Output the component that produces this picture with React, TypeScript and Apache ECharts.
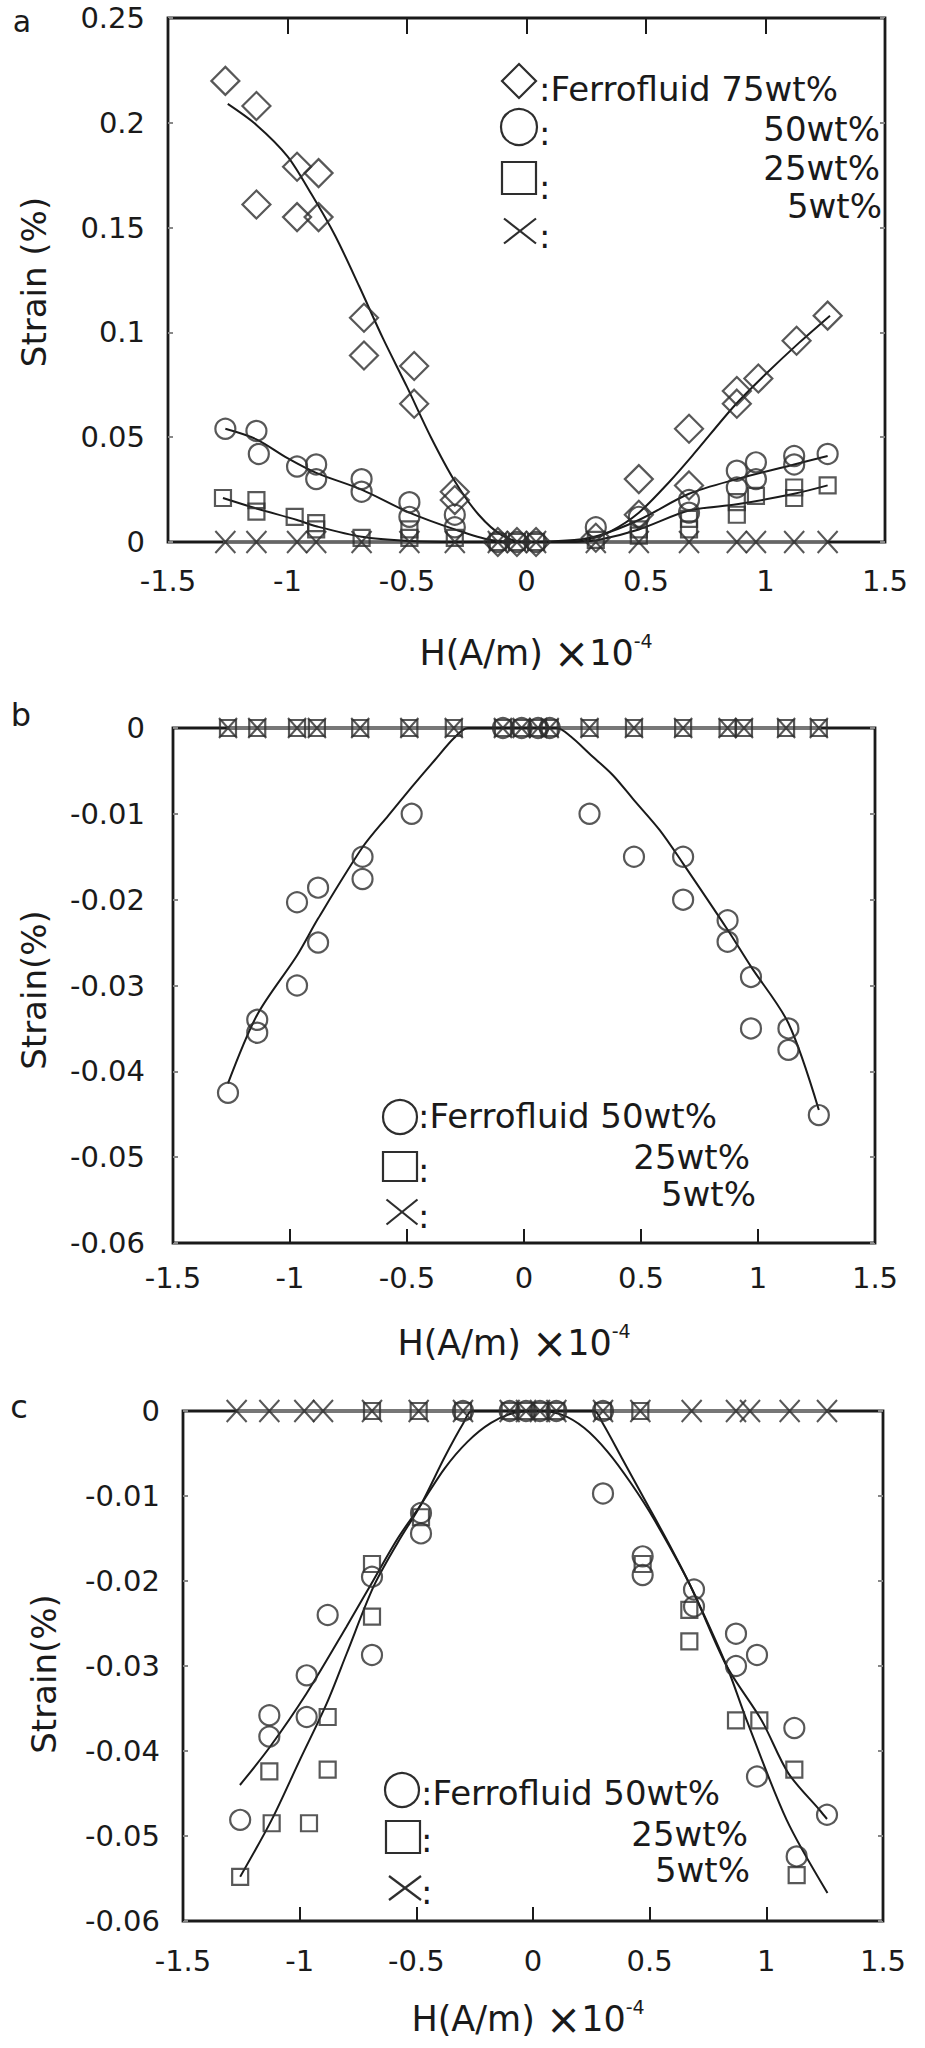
import React, { useEffect, useRef } from "react";
import * as echarts from "echarts";

const FONT = '"DejaVu Sans", "Liberation Sans", Arial, sans-serif';
const INK = "#1a1a1a";
const MARK = "#2e2e2e";

// ---------- axis ticks ----------
const xTickMin = -1.5;
const xTickMax = 1.5;
const xTickStep = 0.5;
const aYMin = 0;
const aYMax = 0.25;
const aYStep = 0.05;
const bcYMin = -0.06;
const bcYMax = 0;
const bcYStep = 0.01;

// ---------- panel a : strain vs H ----------
const a75wt = [
  [-1.26, 0.22], [-1.13, 0.208], [-1.13, 0.161], [-0.96, 0.179], [-0.96, 0.155],
  [-0.87, 0.176], [-0.87, 0.155], [-0.68, 0.107], [-0.68, 0.089], [-0.47, 0.084],
  [-0.47, 0.066], [-0.3, 0.024], [-0.3, 0.02], [-0.12, 0], [-0.04, 0], [0.04, 0],
  [0.29, 0.002], [0.47, 0.03], [0.47, 0.013], [0.68, 0.054], [0.68, 0.027],
  [0.88, 0.072], [0.88, 0.066], [0.97, 0.078], [1.13, 0.096], [1.26, 0.108],
];
const a50wt = [
  [-1.26, 0.054], [-1.13, 0.053], [-1.12, 0.042], [-0.96, 0.036], [-0.88, 0.037],
  [-0.88, 0.03], [-0.69, 0.03], [-0.69, 0.024], [-0.49, 0.019], [-0.49, 0.012],
  [-0.3, 0.013], [-0.3, 0.007], [-0.12, 0], [-0.04, 0], [0.04, 0], [0.29, 0.007],
  [0.47, 0.012], [0.68, 0.02], [0.68, 0.014], [0.88, 0.034], [0.88, 0.026],
  [0.96, 0.038], [0.96, 0.03], [1.12, 0.041], [1.12, 0.037], [1.26, 0.042],
];
const a25wt = [
  [-1.27, 0.021], [-1.13, 0.02], [-1.13, 0.0145], [-0.97, 0.012], [-0.88, 0.009],
  [-0.88, 0.006], [-0.69, 0.002], [-0.49, 0.006], [-0.49, 0.002], [-0.3, 0.002],
  [-0.12, 0], [-0.04, 0], [0.04, 0], [0.29, 0.001], [0.47, 0.006], [0.47, 0.003],
  [0.68, 0.011], [0.68, 0.006], [0.88, 0.019], [0.88, 0.013], [0.96, 0.022],
  [1.12, 0.026], [1.12, 0.021], [1.26, 0.027],
];
const a5wt = [
  [-1.26, 0], [-1.13, 0], [-0.96, 0], [-0.88, 0], [-0.69, 0], [-0.49, 0], [-0.3, 0],
  [-0.12, 0], [-0.04, 0], [0.04, 0], [0.29, 0], [0.47, 0], [0.68, 0], [0.88, 0],
  [0.96, 0], [1.12, 0], [1.26, 0],
];
const a75Fit = [
  [-1.25, 0.209], [-1.13, 0.199], [-1.0, 0.184], [-0.9, 0.166], [-0.8, 0.146],
  [-0.7, 0.122], [-0.6, 0.097], [-0.5, 0.074], [-0.4, 0.05], [-0.3, 0.029],
  [-0.2, 0.013], [-0.1, 0.003], [0, 0], [0.15, 0], [0.25, 0.001], [0.35, 0.005],
  [0.47, 0.014], [0.6, 0.029], [0.7, 0.042], [0.87, 0.065], [1.0, 0.08],
  [1.14, 0.095], [1.27, 0.108],
];
const a50Fit = [
  [-1.26, 0.054], [-1.13, 0.049], [-1.0, 0.04], [-0.88, 0.033], [-0.69, 0.025],
  [-0.49, 0.014], [-0.3, 0.006], [-0.15, 0.001], [0, 0], [0.2, 0.001], [0.3, 0.003],
  [0.47, 0.0105], [0.68, 0.023], [0.88, 0.03], [1.12, 0.037], [1.26, 0.041],
];
const a25Fit = [
  [-1.27, 0.021], [-1.13, 0.016], [-0.96, 0.0105], [-0.88, 0.0075], [-0.69, 0.0025],
  [-0.49, 0.0005], [-0.3, 0], [0.2, 0], [0.3, 0.001], [0.47, 0.006], [0.68, 0.015],
  [0.88, 0.018], [1.12, 0.023], [1.26, 0.027],
];
const a5Fit = [[-1.27, 0], [1.26, 0]];

// ---------- panel b ----------
const b50wt = [
  [-1.265, -0.0425], [-1.14, -0.034], [-1.14, -0.0355], [-0.97, -0.0203], [-0.97, -0.03],
  [-0.88, -0.0186], [-0.88, -0.025], [-0.69, -0.015], [-0.69, -0.0176], [-0.48, -0.01],
  [-0.09, 0], [-0.01, 0], [0.06, 0], [0.11, 0],
  [0.28, -0.01], [0.47, -0.015], [0.68, -0.015], [0.68, -0.02], [0.87, -0.0224],
  [0.87, -0.0249], [0.97, -0.029], [0.97, -0.035], [1.13, -0.035], [1.13, -0.0375],
  [1.26, -0.0451],
];
const b25wt = [
  [-1.265, 0], [-1.14, 0], [-0.97, 0], [-0.885, 0], [-0.7, 0], [-0.49, 0], [-0.3, 0],
  [-0.09, 0], [-0.01, 0], [0.06, 0], [0.11, 0], [0.28, 0], [0.47, 0], [0.68, 0],
  [0.87, 0], [0.94, 0], [1.12, 0], [1.26, 0],
];
const b5wt = [
  [-1.265, 0], [-1.14, 0], [-0.97, 0], [-0.885, 0], [-0.7, 0], [-0.49, 0], [-0.3, 0],
  [-0.09, 0], [-0.01, 0], [0.06, 0], [0.11, 0], [0.28, 0], [0.47, 0], [0.68, 0],
  [0.87, 0], [0.94, 0], [1.12, 0], [1.26, 0],
];
const b50Fit = [
  [-1.265, -0.0414], [-1.14, -0.0334], [-0.97, -0.0265], [-0.88, -0.0222], [-0.69, -0.0139],
  [-0.58, -0.0102], [-0.48, -0.0069], [-0.38, -0.0037], [-0.3, -0.0012], [-0.24, 0],
  [0.14, 0], [0.2, -0.001], [0.28, -0.003], [0.38, -0.0055], [0.47, -0.0084],
  [0.58, -0.0119], [0.68, -0.0158], [0.87, -0.0235], [0.97, -0.0278], [1.13, -0.0344],
  [1.26, -0.0445],
];
const bZeroFit = [[-1.27, 0], [1.27, 0]];

// ---------- panel c ----------
const c50wt = [
  [-1.255, -0.0481], [-1.13, -0.0358], [-1.13, -0.0383], [-0.97, -0.0311], [-0.97, -0.036],
  [-0.88, -0.024], [-0.69, -0.0195], [-0.69, -0.0287], [-0.48, -0.012], [-0.48, -0.0144],
  [-0.3, 0], [-0.1, 0], [-0.03, 0], [0.03, 0], [0.1, 0], [0.3, 0],
  [0.3, -0.0097], [0.47, -0.0171], [0.47, -0.0193], [0.69, -0.021], [0.69, -0.023],
  [0.87, -0.0262], [0.87, -0.03], [0.96, -0.0287], [0.96, -0.043], [1.12, -0.0373],
  [1.13, -0.0524], [1.26, -0.0475],
];
const c25wt = [
  [-1.255, -0.0548], [-1.12, -0.0485], [-0.96, -0.0485], [-1.13, -0.0424], [-0.88, -0.0422],
  [-0.88, -0.036], [-0.69, -0.018], [-0.69, -0.0242], [-0.48, -0.0125],
  [-0.69, 0], [-0.49, 0], [-0.3, 0], [-0.1, 0], [-0.03, 0], [0.03, 0], [0.1, 0], [0.3, 0], [0.46, 0],
  [0.47, -0.018], [0.67, -0.0234], [0.67, -0.0271], [0.87, -0.0364], [0.97, -0.0364],
  [1.12, -0.0422], [1.13, -0.0546],
];
const c5wt = [
  [-1.27, 0], [-1.13, 0], [-0.98, 0], [-0.9, 0], [-0.69, 0], [-0.49, 0], [-0.3, 0],
  [-0.1, 0], [-0.03, 0], [0.03, 0], [0.1, 0], [0.3, 0], [0.46, 0], [0.68, 0],
  [0.87, 0], [0.93, 0], [1.1, 0], [1.26, 0],
];
const cFitRound = [
  [-1.256, -0.044], [-1.127, -0.0395], [-0.97, -0.0332], [-0.8, -0.0254], [-0.684, -0.0199],
  [-0.58, -0.015], [-0.48, -0.011], [-0.38, -0.0068], [-0.28, -0.0036], [-0.18, -0.0014],
  [-0.08, -0.0002], [0.02, 0], [0.12, -0.0004], [0.22, -0.002], [0.32, -0.0048],
  [0.42, -0.0085], [0.52, -0.0128], [0.677, -0.0207], [0.83, -0.03], [0.98, -0.0364],
  [1.094, -0.0426], [1.23, -0.047], [1.26, -0.048],
];
const cFitFlat = [
  [-1.255, -0.0548], [-1.12, -0.0481], [-1.0, -0.0411], [-0.884, -0.0344], [-0.798, -0.0285],
  [-0.684, -0.0207], [-0.58, -0.0155], [-0.48, -0.011], [-0.38, -0.0055], [-0.3, -0.0015],
  [-0.26, 0], [0.26, 0], [0.3, -0.0015], [0.38, -0.0055], [0.48, -0.0105], [0.58, -0.0155],
  [0.677, -0.0207], [0.83, -0.03], [0.916, -0.0364], [1.087, -0.0481], [1.262, -0.0567],
];
const cZeroFit = [[-1.27, 0], [1.27, 0]];

// ---------- legend / titles ----------
const titleMain = "H(A/m) ";
const titleTimes = "×";
const titleBase = "10";
const titleSup = "-4";
const legendA = [":Ferrofluid 75wt%", "50wt%", "25wt%", "5wt%"];
const legendBC = [":Ferrofluid 50wt%", "25wt%", "5wt%"];

const X_PATH = "path://M0 0L20 20M20 0L0 20";
const TICK_FS = 29;
const LEG_FS = 34;

function fitLine(data: number[][], xi: number, yi: number, width = 2, color = INK) {
  return {
    type: "line",
    xAxisIndex: xi,
    yAxisIndex: yi,
    data,
    showSymbol: false,
    symbol: "none",
    smooth: 0.3,
    clip: false,
    silent: true,
    z: 3,
    lineStyle: { color, width },
  };
}

function marks(data: number[][], symbol: string, size: number | number[], xi: number, yi: number) {
  return {
    type: "scatter",
    xAxisIndex: xi,
    yAxisIndex: yi,
    data,
    symbol,
    symbolSize: size,
    clip: false,
    silent: true,
    z: 4,
    itemStyle: { color: "rgba(0,0,0,0)", borderColor: MARK, borderWidth: 2.2 },
  };
}

function xAx(gridIndex: number, extra: any) {
  return {
    type: "value",
    gridIndex,
    min: xTickMin,
    max: xTickMax,
    interval: xTickStep,
    splitLine: { show: false },
    axisLine: { show: false, onZero: false },
    axisTick: { show: true, inside: true, length: 14, lineStyle: { color: INK, width: 2 } },
    axisLabel: { fontSize: TICK_FS, fontFamily: FONT, color: INK, margin: 24 },
    ...extra,
  };
}

function yAx(gridIndex: number, min: number, max: number, step: number, extra: any) {
  return {
    type: "value",
    gridIndex,
    min,
    max,
    interval: step,
    splitLine: { show: false },
    axisLine: { show: false, onZero: false },
    axisTick: { show: true, inside: true, length: 5, lineStyle: { color: "#888", width: 2 } },
    axisLabel: { fontSize: TICK_FS, fontFamily: FONT, color: INK, margin: 23 },
    ...extra,
  };
}

function txt(x: number, y: number, text: string, size: number, align = "left", extra: any = {}, vAlign = "middle") {
  return {
    type: "text",
    x,
    y,
    silent: true,
    z: 10,
    ...extra,
    style: {
      text,
      fontSize: size,
      fontFamily: FONT,
      fill: INK,
      align,
      textAlign: align,
      verticalAlign: vAlign,
      textVerticalAlign: vAlign,
    },
  };
}

const symStroke = { stroke: MARK, lineWidth: 2.2, fill: "none" };

function xMark(cx: number, cy: number, w: number, h: number) {
  return [
    { type: "line", silent: true, shape: { x1: cx - w / 2, y1: cy - h / 2, x2: cx + w / 2, y2: cy + h / 2 }, style: { stroke: MARK, lineWidth: 2.2 } },
    { type: "line", silent: true, shape: { x1: cx + w / 2, y1: cy - h / 2, x2: cx - w / 2, y2: cy + h / 2 }, style: { stroke: MARK, lineWidth: 2.2 } },
  ];
}

function xTitle(cx: number, cy: number) {
  return {
    type: "text",
    x: cx,
    y: cy,
    silent: true,
    style: {
      text: titleMain + "{x|" + titleTimes + "}" + titleBase + "{s|" + titleSup + "}",
      fontSize: 35,
      fontFamily: FONT,
      fill: INK,
      align: "center",
      textAlign: "center",
      verticalAlign: "middle",
      textVerticalAlign: "middle",
      lineHeight: 44,
      rich: {
        x: { fontSize: 42, fontFamily: FONT, fill: INK, lineHeight: 44 },
        s: { fontSize: 19, fontFamily: FONT, fill: INK, verticalAlign: "top", lineHeight: 20 },
      },
    },
  };
}

function buildOption() {
  const graphic: any[] = [
    // panel letters
    txt(22, 21, "a", 30, "center"),
    txt(21, 715, "b", 32, "center"),
    txt(19, 1407, "c", 32, "center"),
    // y titles
    txt(34, 282, "Strain (%)", 34, "center", { rotation: Math.PI / 2 }),
    txt(34, 990, "Strain(%)", 34, "center", { rotation: Math.PI / 2 }),
    txt(44, 1674, "Strain(%)", 34, "center", { rotation: Math.PI / 2 }),
    // x titles
    xTitle(536, 653),
    xTitle(514, 1343),
    xTitle(528, 2019),

    // legend a
    { type: "polygon", silent: true, shape: { points: [[519, 64], [536, 81], [519, 98], [502, 81]] }, style: symStroke },
    txt(539, 89, legendA[0], LEG_FS, "left"),
    { type: "circle", silent: true, shape: { cx: 519, cy: 127, r: 18 }, style: symStroke },
    txt(539, 133, ":", LEG_FS, "left"),
    txt(880, 129, legendA[1], LEG_FS, "right"),
    { type: "rect", silent: true, shape: { x: 502, y: 162, width: 34, height: 32 }, style: symStroke },
    txt(539, 187, ":", LEG_FS, "left"),
    txt(880, 168, legendA[2], LEG_FS, "right"),
    ...xMark(520, 231, 32, 25),
    txt(539, 236, ":", LEG_FS, "left"),
    txt(882, 206, legendA[3], LEG_FS, "right"),

    // legend b
    { type: "circle", silent: true, shape: { cx: 400, cy: 1117, r: 17 }, style: symStroke },
    txt(418, 1116, legendBC[0], LEG_FS, "left"),
    { type: "rect", silent: true, shape: { x: 383, y: 1152, width: 34, height: 29 }, style: symStroke },
    txt(418, 1170, ":", LEG_FS, "left"),
    txt(750, 1157, legendBC[1], LEG_FS, "right"),
    ...xMark(402, 1212, 31, 25),
    txt(418, 1216, ":", LEG_FS, "left"),
    txt(756, 1194, legendBC[2], LEG_FS, "right"),

    // legend c
    { type: "circle", silent: true, shape: { cx: 402, cy: 1790, r: 17 }, style: symStroke },
    txt(421, 1793, legendBC[0], LEG_FS, "left"),
    { type: "rect", silent: true, shape: { x: 386, y: 1821, width: 34, height: 32 }, style: symStroke },
    txt(421, 1840, ":", LEG_FS, "left"),
    txt(748, 1834, legendBC[1], LEG_FS, "right"),
    ...xMark(405, 1888, 32, 24),
    txt(421, 1892, ":", LEG_FS, "left"),
    txt(750, 1870, legendBC[2], LEG_FS, "right"),
  ];

  return {
    animation: false,
    backgroundColor: "#ffffff",
    textStyle: { fontFamily: FONT },
    grid: [
      { left: 168, top: 18, width: 717, height: 524, show: true, borderColor: INK, borderWidth: 2.8, backgroundColor: "transparent" },
      { left: 173, top: 728, width: 702, height: 515, show: true, borderColor: INK, borderWidth: 2.8, backgroundColor: "transparent" },
      { left: 183, top: 1411, width: 700, height: 510, show: true, borderColor: INK, borderWidth: 2.8, backgroundColor: "transparent" },
    ],
    xAxis: [
      xAx(0, { axisTick: { show: false } }),
      xAx(0, { position: "top", axisLabel: { show: false }, axisTick: { show: true, inside: true, length: 16, lineStyle: { color: INK, width: 2 } } }),
      xAx(1, { axisLabel: { fontSize: TICK_FS, fontFamily: FONT, color: INK, margin: 20 } }),
      xAx(2, { axisLabel: { fontSize: TICK_FS, fontFamily: FONT, color: INK, margin: 25 } }),
    ],
    yAxis: [
      yAx(0, aYMin, aYMax, aYStep, {}),
      yAx(0, aYMin, aYMax, aYStep, { position: "right", axisLabel: { show: false } }),
      yAx(1, bcYMin, bcYMax, bcYStep, { axisLabel: { fontSize: TICK_FS, fontFamily: FONT, color: INK, margin: 28 } }),
      yAx(1, bcYMin, bcYMax, bcYStep, { position: "right", axisLabel: { show: false } }),
      yAx(2, bcYMin, bcYMax, bcYStep, { axisLabel: { fontSize: TICK_FS, fontFamily: FONT, color: INK, margin: 23 } }),
      yAx(2, bcYMin, bcYMax, bcYStep, { position: "right", axisLabel: { show: false } }),
    ],
    series: [
      // panel a
      fitLine(a5Fit, 0, 0, 3, "#666"),
      fitLine(a75Fit, 0, 0),
      fitLine(a50Fit, 0, 0),
      fitLine(a25Fit, 0, 0),
      marks(a75wt, "diamond", 28, 0, 0),
      marks(a50wt, "circle", 20, 0, 0),
      marks(a25wt, "rect", 16, 0, 0),
      marks(a5wt, X_PATH, [20, 22], 0, 0),
      // panel b
      fitLine(bZeroFit, 2, 2, 4, "#777"),
      fitLine(b50Fit, 2, 2),
      marks(b50wt, "circle", 20, 2, 2),
      marks(b25wt, "rect", 16, 2, 2),
      marks(b5wt, X_PATH, [18, 20], 2, 2),
      // panel c
      fitLine(cZeroFit, 3, 4, 4, "#777"),
      fitLine(cFitRound, 3, 4),
      fitLine(cFitFlat, 3, 4),
      marks(c50wt, "circle", 20, 3, 4),
      marks(c25wt, "rect", 16, 3, 4),
      marks(c5wt, X_PATH, [20, 22], 3, 4),
    ],
    graphic,
  };
}

export default function App() {
  const ref = useRef<HTMLDivElement>(null);
  useEffect(() => {
    if (!ref.current) return;
    const chart = echarts.init(ref.current, null, { renderer: "svg" });
    chart.setOption(buildOption() as any);
    return () => chart.dispose();
  }, []);
  return (
    <div
      ref={ref}
      style={{ position: "absolute", left: 0, top: 0, width: 925, height: 2048, background: "#fff" }}
    />
  );
}
